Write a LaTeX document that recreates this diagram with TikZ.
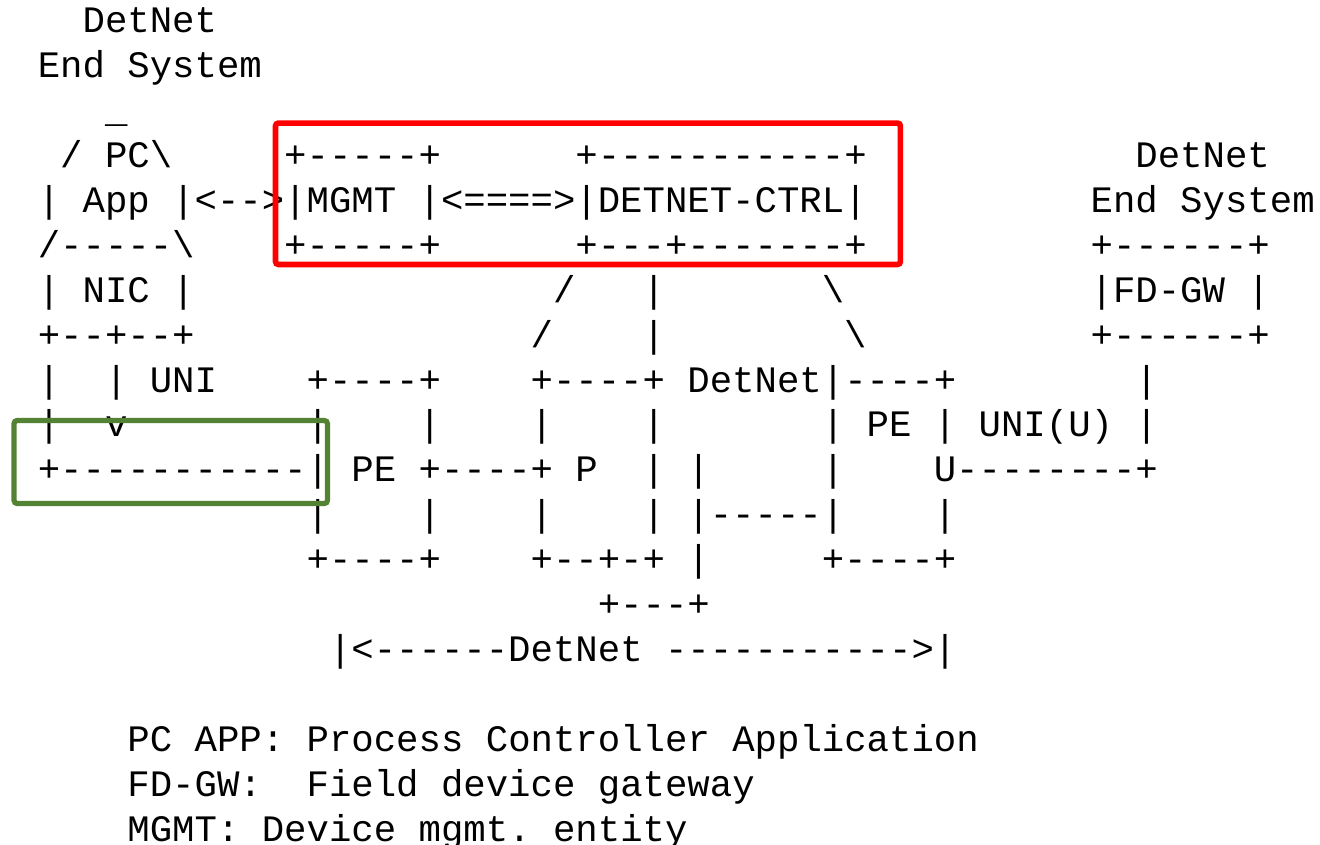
\documentclass[tikz,border=0pt]{standalone}
\usepackage{fontspec}
\setmonofont{Liberation Mono}
\definecolor{framegreen}{RGB}{84,130,53}

\tikzset{
  txt/.style={anchor=base west, inner sep=0pt, outer sep=0pt,
    font=\ttfamily\fontsize{18.67pt}{22.45pt}\selectfont},
  redframe/.style={draw=red, line width=2.8pt, rounded corners=1.5pt},
  greenframe/.style={draw=framegreen, line width=2.6pt, rounded corners=1.5pt}
}

\begin{document}
\begin{tikzpicture}[x=11.2pt, y=-22.45pt]
\useasboundingbox (-1.6875,-0.7305) rectangle (57.241,18.067);

%% left end system
\node[txt] (esl1) at (2,0) {DetNet};
\node[txt] (esl2) at (0,1) {End System};
\node[txt] (pcroof) at (3,2) {\_};
\node[txt] (pc) at (1,3) {/ PC\textbackslash};
\node[txt] (app) at (0,4) {| App |<-->};
\node[txt] (appbase) at (0,5) {/-----\textbackslash};
\node[txt] (nic) at (0,6) {| NIC |};
\node[txt] (nicbot) at (0,7) {+--+--+};
\node[txt] (lw1) at (0,8) {|};
\node[txt] (uni) at (3,8) {| UNI};
\node[txt] (lw2) at (0,9) {|};
\node[txt] (unidown) at (3,9) {v};

%% mgmt and controller
\node[txt] (mgmttop) at (11,3) {+-----+};
\node[txt] (mgmt) at (11,4) {|MGMT |<====>};
\node[txt] (mgmtbot) at (11,5) {+-----+};
\node[txt] (ctrltop) at (24,3) {+-----------+};
\node[txt] (ctrl) at (24,4) {|DETNET-CTRL|};
\node[txt] (ctrlbot) at (24,5) {+---+-------+};

%% controller links
\node[txt] (lnk1a) at (23,6) {/};
\node[txt] (lnk1b) at (22,7) {/};
\node[txt] (lnk2a) at (27,6) {|};
\node[txt] (lnk2b) at (27,7) {|};
\node[txt] (lnk3a) at (35,6) {\textbackslash};
\node[txt] (lnk3b) at (36,7) {\textbackslash};

%% right end system
\node[txt] (esr1) at (49,3) {DetNet};
\node[txt] (esr2) at (47,4) {End System};
\node[txt] (fdgwtop) at (47,5) {+------+};
\node[txt] (fdgw) at (47,6) {|FD-GW |};
\node[txt] (fdgwbot) at (47,7) {+------+};
\node[txt] (uniu1) at (49,8) {|};

%% detnet nodes
\node[txt] (pe1top) at (12,8) {+----+};
\node[txt] (ptop) at (22,8) {+----+ DetNet|----+};
\node[txt] (pe1a) at (12,9) {|};
\node[txt] (pe1b) at (17,9) {|};
\node[txt] (pa) at (22,9) {|};
\node[txt] (pb) at (27,9) {|};
\node[txt] (pe2) at (35,9) {| PE | UNI(U) |};
\node[txt] (pe1) at (0,10) {+-----------| PE +----+ P};
\node[txt] (pc1) at (27,10) {| |};
\node[txt] (pe2a) at (35,10) {|};
\node[txt] (pe2u) at (40,10) {U--------+};
\node[txt] (pe1c) at (12,11) {|};
\node[txt] (pe1d) at (17,11) {|};
\node[txt] (pc2) at (22,11) {|};
\node[txt] (pc3) at (27,11) {| |-----|};
\node[txt] (pe2b) at (40,11) {|};
\node[txt] (pe1bot) at (12,12) {+----+};
\node[txt] (pbot) at (22,12) {+--+-+ |};
\node[txt] (pe2bot) at (35,12) {+----+};
\node[txt] (pjoin) at (25,13) {+---+};
\node[txt] (span) at (13,14) {|<------DetNet ----------->|};

%% legend
\node[txt] (leg1) at (4,16) {PC APP: Process Controller Application};
\node[txt] (leg2) at (4,17) {FD-GW:};
\node[txt] (leg2b) at (12,17) {Field device gateway};
\node[txt] (leg3) at (4,18) {MGMT: Device mgmt. entity};

%% highlight frames
\draw[redframe] (10.61,2.01) rectangle (38.51,5.16);
\draw[greenframe] (-1.06,8.635) rectangle (12.93,10.483);
\end{tikzpicture}
\end{document}
